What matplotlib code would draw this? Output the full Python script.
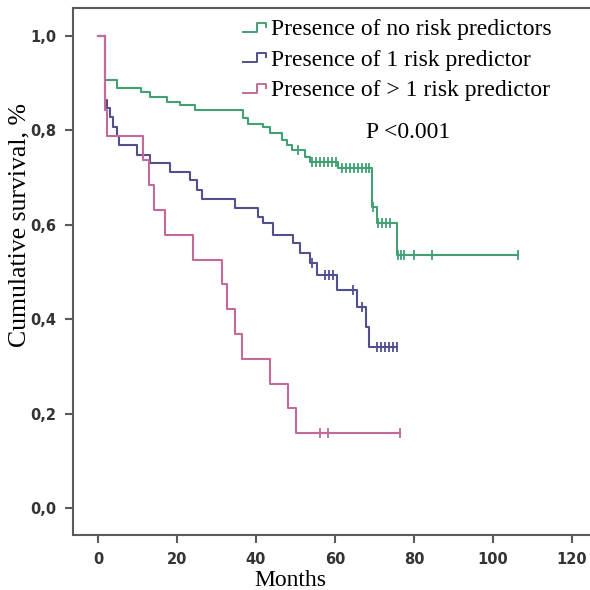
import matplotlib.pyplot as plt
from matplotlib.lines import Line2D
from matplotlib.legend_handler import HandlerBase
import numpy as np

# Kaplan-Meier step points (months, cumulative survival)
t_none = [0, 1.7, 4.8, 11.0, 13.2, 17.5, 20.8, 24.6, 36.7, 38.0, 41.8, 43.5,
          46.6, 47.8, 49.1, 52.4, 53.7, 60.8, 69.4, 70.6, 75.7, 106.3]
s_none = [1.0, 0.907, 0.890, 0.881, 0.871, 0.860, 0.854, 0.843, 0.826, 0.814,
          0.807, 0.794, 0.780, 0.769, 0.758, 0.744, 0.733, 0.720, 0.638, 0.604,
          0.536, 0.536]
c_none = [50.6, 54.3, 55.3, 56.3, 57.3, 58.3, 59.3, 60.3, 61.8, 62.8, 63.8,
          64.8, 65.8, 66.8, 67.8, 68.6, 69.6, 71.0, 72.0, 73.0, 74.0, 76.0,
          76.8, 77.6, 80.0, 84.5, 106.3]

t_one = [0, 1.7, 2.3, 3.0, 3.8, 4.8, 5.2, 10.0, 13.2, 18.2, 23.3, 25.0, 26.3,
         34.7, 40.5, 41.8, 44.3, 49.4, 51.1, 53.7, 55.4, 60.5, 65.6, 68.0,
         68.6, 75.8]
s_one = [1.0, 0.865, 0.847, 0.828, 0.807, 0.789, 0.769, 0.748, 0.731, 0.712,
         0.695, 0.674, 0.655, 0.636, 0.617, 0.604, 0.578, 0.561, 0.540, 0.519,
         0.494, 0.462, 0.426, 0.384, 0.341, 0.341]
c_one = [54.2, 57.5, 58.5, 59.5, 64.6, 66.8, 70.6, 71.6, 72.6, 73.6, 74.6, 75.8]

t_many = [0, 1.7, 2.2, 11.4, 13.0, 14.2, 17.0, 24.0, 31.4, 32.7, 34.7, 36.5,
          43.5, 48.1, 50.2, 76.5]
s_many = [1.0, 0.842, 0.789, 0.737, 0.684, 0.632, 0.579, 0.526, 0.474, 0.421,
          0.368, 0.316, 0.263, 0.211, 0.158, 0.158]
c_many = [56.2, 58.2, 76.5]

labels = ['Presence of no risk predictors', 'Presence of 1 risk predictor',
          'Presence of > 1 risk predictor']
colors = ['#42a073', '#50508e', '#c46a9a']

xticks = [0, 20, 40, 60, 80, 100, 120]
yticks = [0.0, 0.2, 0.4, 0.6, 0.8, 1.0]


class StepHandler(HandlerBase):
    # small step glyph used in the legend
    def create_artists(self, legend, orig_handle, xdescent, ydescent,
                       width, height, fontsize, trans):
        x0, x1 = -xdescent, -xdescent + width
        xm = x0 + width * 0.6
        ylo, yhi = -ydescent + height * 0.2, -ydescent + height * 0.75
        ln = Line2D([x0, xm, xm, x1, x1], [ylo, ylo, yhi, yhi, yhi - height * 0.25],
                    color=orig_handle.get_color(), lw=1.4)
        ln.set_transform(trans)
        return [ln]


fig = plt.figure(figsize=(5.9, 5.9), dpi=100)
ax = fig.add_axes([0.1237, 0.0932, 0.8763, 0.8932])

handles = []
for t, s, c, col in zip([t_none, t_one, t_many], [s_none, s_one, s_many],
                        [c_none, c_one, c_many], colors):
    h, = ax.step(t, s, where='post', color=col, lw=1.5)
    handles.append(h)
    # censoring ticks sit on the curve value at each time
    cy = [s[np.searchsorted(t, ci, side='right') - 1] for ci in c]
    ax.plot(c, cy, ls='none', marker='|', ms=7, mew=1.3, color=col)

ax.set_xlim(-6.33, 124.6)
ax.set_ylim(-0.057, 1.059)
ax.set_xticks(xticks)
ax.set_yticks(yticks)
ax.set_yticklabels([f'{v:.1f}'.replace('.', ',') for v in yticks])

for sp in ['left', 'top', 'bottom']:
    ax.spines[sp].set_color('#5a5a5a')
    ax.spines[sp].set_linewidth(1.5)
ax.spines['right'].set_visible(False)
ax.tick_params(direction='out', length=6, width=1.5, color='#5a5a5a',
               labelcolor='#333333', pad=6)
for lab in ax.get_xticklabels() + ax.get_yticklabels():
    lab.set_fontfamily('DejaVu Sans')
    lab.set_fontweight('bold')
    lab.set_fontsize(10.5)

ax.set_xlabel('Months', family='Liberation Serif', fontsize=17)
ax.set_ylabel('Cumulative survival, %', family='Liberation Serif', fontsize=18.5)
ax.xaxis.set_label_coords(0.42, -0.066)
ax.yaxis.set_label_coords(-0.083, 0.588)

ax.legend(handles, labels, handler_map={Line2D: StepHandler()},
          loc='upper left', bbox_to_anchor=(0.31, 0.998), frameon=False,
          prop={'family': 'Liberation Serif', 'size': 17},
          handlelength=1.0, handletextpad=0.2, labelspacing=0.38,
          borderaxespad=0)

ax.text(0.648, 0.763, 'P <0.001', transform=ax.transAxes, ha='center',
        va='center', family='Liberation Serif', fontsize=17)

fig.savefig('out.png', dpi=100)
